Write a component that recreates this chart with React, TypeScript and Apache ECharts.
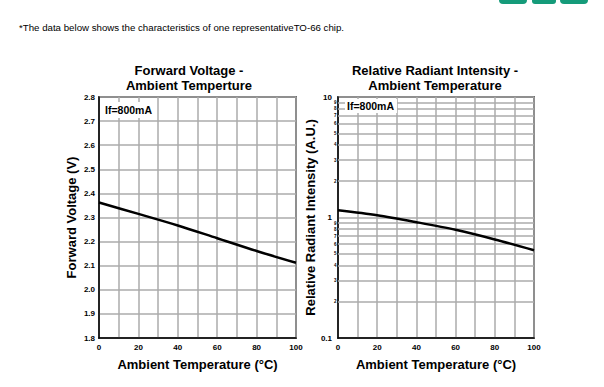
import React, { useEffect, useRef } from 'react';
import * as echarts from 'echarts';

const temps = [0, 20, 40, 60, 80, 100];
const forwardVoltage = [2.362, 2.315, 2.267, 2.214, 2.161, 2.112];
const relIntensity = [1.15, 1.045, 0.915, 0.79, 0.657, 0.535];
const minorLogTicks = [0.2, 0.3, 0.4, 0.5, 0.6, 0.7, 0.8, 0.9, 2, 3, 4, 5, 6, 7, 8, 9];

const headerText = '*The data below shows the characteristics of one representativeTO-66 chip.';
const leftTitle = ['Forward Voltage -', 'Ambient Temperture'];
const rightTitle = ['Relative Radiant Intensity -', 'Ambient Temperature'];
const conditionText = 'If=800mA';
const xName = 'Ambient Temperature (°C)';
const leftYName = 'Forward Voltage (V)';
const rightYName = 'Relative Radiant Intensity (A.U.)';

const FONT = '"Liberation Sans", Arial, sans-serif';
const GRID_GRAY = '#ababab';

export default function App() {
  const ref = useRef<HTMLDivElement>(null);
  useEffect(() => {
    if (!ref.current) return;
    const chart = echarts.init(ref.current, null, { renderer: 'svg' });
    const txt = (text: string, x: number, y: number, size: number, bold = true, align = 'center', extra: any = {}) => ({
      type: 'text',
      x,
      y,
      z: 100,
      zlevel: 0,
      silent: true,
      style: {
        text,
        fontSize: size,
        fontWeight: bold ? 'bold' : 'normal',
        fontFamily: FONT,
        fill: '#000',
        align,
        verticalAlign: 'middle',
        ...extra,
      },
    });
    const xAxisBase = (gridIndex: number) => ({
      type: 'value',
      gridIndex,
      min: 0,
      max: 100,
      interval: 10,
      name: xName,
      nameLocation: 'middle',
      nameGap: 20,
      nameTextStyle: { fontSize: 13, fontWeight: 'bold', fontFamily: FONT, color: '#000' },
      axisLine: { show: true, lineStyle: { color: '#000', width: 1.5 } },
      axisTick: { show: false },
      axisLabel: {
        fontSize: 8,
        fontWeight: 'bold',
        fontFamily: FONT,
        color: '#000',
        margin: 5,
        formatter: (v: number) => (v % 20 === 0 ? String(v) : ''),
      },
      splitLine: { show: true, lineStyle: { color: GRID_GRAY, width: 1.5 } },
    });
    const option: any = {
      animation: false,
      backgroundColor: '#fff',
      grid: [
        { left: 99, top: 97, width: 197, height: 241, show: true, borderColor: '#000', borderWidth: 1.5, backgroundColor: 'transparent' },
        { left: 338, top: 97, width: 196, height: 241, show: true, borderColor: '#000', borderWidth: 1.5, backgroundColor: 'transparent' },
      ],
      xAxis: [xAxisBase(0), xAxisBase(1)],
      yAxis: [
        {
          type: 'value',
          gridIndex: 0,
          min: 1.8,
          max: 2.8,
          interval: 0.1,
          name: leftYName,
          nameLocation: 'middle',
          nameGap: 21,
          nameTextStyle: { fontSize: 13, fontWeight: 'bold', fontFamily: FONT, color: '#000' },
          axisLine: { show: true, lineStyle: { color: '#000', width: 1.5 } },
          axisTick: { show: false },
          axisLabel: {
            fontSize: 8,
            fontWeight: 'bold',
            fontFamily: FONT,
            color: '#000',
            margin: 4,
            formatter: (v: number) => v.toFixed(1),
          },
          splitLine: { show: true, lineStyle: { color: GRID_GRAY, width: 1.5 } },
        },
        {
          type: 'log',
          gridIndex: 1,
          logBase: 10,
          min: 0.1,
          max: 10,
          name: rightYName,
          nameLocation: 'middle',
          nameGap: 17,
          nameTextStyle: { fontSize: 13, fontWeight: 'bold', fontFamily: FONT, color: '#000' },
          axisLine: { show: true, lineStyle: { color: '#000', width: 1.5 } },
          axisTick: { show: false },
          minorTick: { show: false },
          minorSplitLine: { show: false },
          axisLabel: {
            fontSize: 8,
            fontWeight: 'bold',
            fontFamily: FONT,
            color: '#000',
            margin: 6,
            verticalAlign: 'middle',
            padding: [0, 0, 3, 0],
            formatter: (v: number) => (v < 0.5 ? '0.1' : v < 5 ? '1' : '10'),
          },
          splitLine: { show: true, lineStyle: { color: GRID_GRAY, width: 1.5 } },
        },
      ],
      series: [
        {
          type: 'line',
          xAxisIndex: 0,
          yAxisIndex: 0,
          data: temps.map((t, i) => [t, forwardVoltage[i]]),
          smooth: 0.3,
          showSymbol: false,
          lineStyle: { color: '#000', width: 2.5 },
          z: 5,
        },
        {
          type: 'line',
          xAxisIndex: 1,
          yAxisIndex: 1,
          data: temps.map((t, i) => [t, relIntensity[i]]),
          smooth: 0.3,
          showSymbol: false,
          lineStyle: { color: '#000', width: 2.5 },
          z: 5,
          markLine: {
            silent: true,
            symbol: 'none',
            animation: false,
            lineStyle: { color: GRID_GRAY, width: 1.5, type: 'solid' },
            label: {
              show: true,
              position: 'start',
              distance: 1.5,
              fontSize: 4.5,
              fontWeight: 'bold',
              fontFamily: FONT,
              color: '#000',
              formatter: (p: any) => {
                const v = Number(p.value);
                return String(Math.round(v < 1 ? v * 10 : v));
              },
            },
            data: minorLogTicks.map((v) => ({ yAxis: v })),
            z: 1,
          },
        },
      ],
      graphic: [
        txt(headerText, 19, 27, 9.7, false, 'left'),
        txt(leftTitle[0], 189, 70, 13),
        txt(leftTitle[1], 189, 85, 13),
        txt(rightTitle[0], 435, 70, 13),
        txt(rightTitle[1], 435, 85, 13),
        txt(conditionText, 102, 110, 10.5, true, 'left', { backgroundColor: '#fff', padding: [3, 4, 2, 3] }),
        txt(conditionText, 345, 106, 10.5, true, 'left', { backgroundColor: '#fff', padding: [2, 3, 1, 2] }),
        { type: 'rect', silent: true, shape: { x: 499, y: -6, width: 28, height: 10, r: 4 }, style: { fill: '#159b7a' } },
        { type: 'rect', silent: true, shape: { x: 532, y: -6, width: 24, height: 10, r: 3 }, style: { fill: '#159b7a' } },
        { type: 'rect', silent: true, shape: { x: 560, y: -6, width: 28, height: 10, r: 4 }, style: { fill: '#159b7a' } },
      ],
    };
    chart.setOption(option);
    return () => chart.dispose();
  }, []);
  return <div ref={ref} style={{ position: 'fixed', left: 0, top: 0, width: 604, height: 387, background: '#fff' }} />;
}
